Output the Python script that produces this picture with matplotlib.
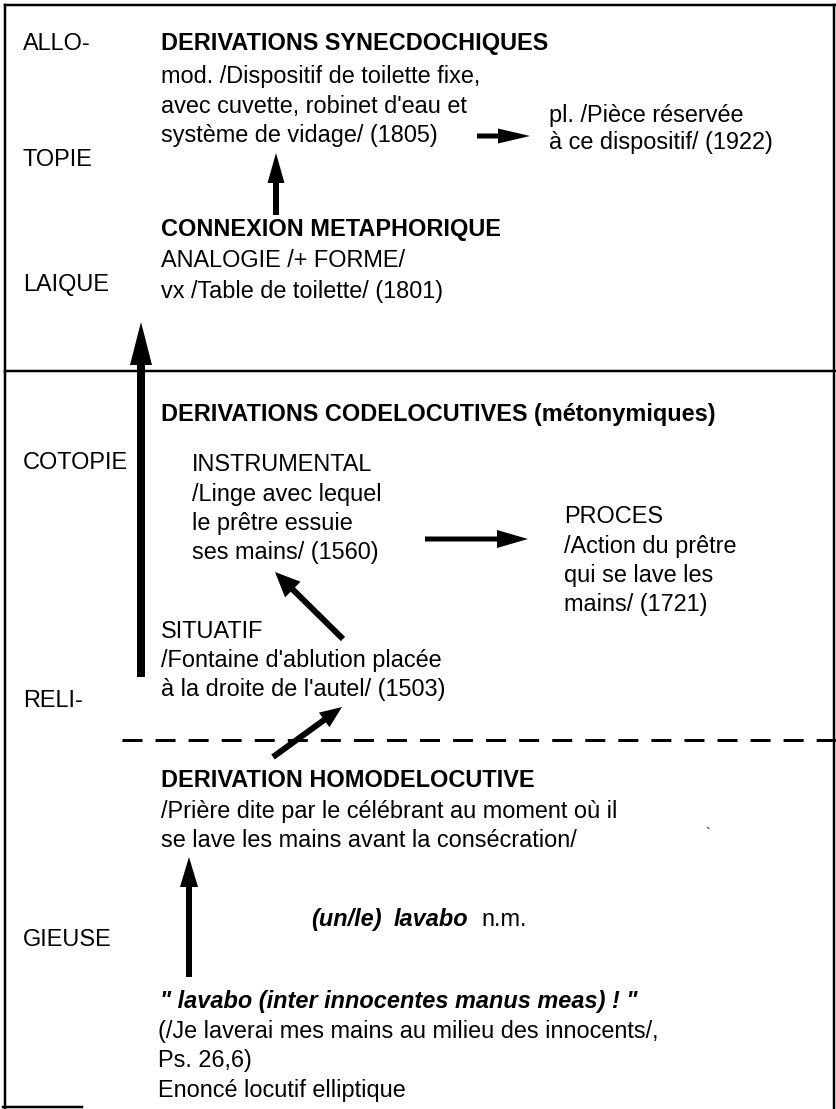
#!/usr/bin/env python
# -*- coding: utf-8 -*-
"""
Schema: derivations semantiques de "lavabo" (allotopie laique / cotopie religieuse).
"""
import matplotlib
matplotlib.use("Agg")
import matplotlib.pyplot as plt

plt.rcParams.update({
    "font.family": ["Liberation Sans", "DejaVu Sans"],
    "font.size": 16.9,
    "lines.scale_dashes": False,
})

W, H = 837, 1109  # canvas in pixels, 1 data unit = 1 px

# ── Texts ──
zone_labels = ["ALLO-", "TOPIE", "LAIQUE", "COTOPIE", "RELI-", "GIEUSE"]

synec_title = "DERIVATIONS SYNECDOCHIQUES"
synec_lines = ["mod. /Dispositif de toilette fixe,",
               "avec cuvette, robinet d'eau et",
               "système de vidage/ (1805)"]
synec_plural = ["pl. /Pièce réservée", "à ce dispositif/ (1922)"]

meta_title = "CONNEXION METAPHORIQUE"
meta_lines = ["ANALOGIE /+ FORME/", "vx /Table de toilette/ (1801)"]

codel_title = "DERIVATIONS CODELOCUTIVES (métonymiques)"
instr_lines = ["INSTRUMENTAL", "/Linge avec lequel", "le prêtre essuie", "ses mains/ (1560)"]
proces_lines = ["PROCES", "/Action du prêtre", "qui se lave les", "mains/ (1721)"]
situ_lines = ["SITUATIF", "/Fontaine d'ablution placée", "à la droite de l'autel/ (1503)"]

homo_title = "DERIVATION HOMODELOCUTIVE"
homo_lines = ["/Prière dite par le célébrant au moment où il",
              "se lave les mains avant la consécration/"]

entry_words = ["(un/le)", "lavabo", "n.m."]
source_quote = "\" lavabo (inter innocentes manus meas) ! \""
source_lines = ["(/Je laverai mes mains au milieu des innocents/,",
                "Ps. 26,6)",
                "Enoncé locutif elliptique"]

# ── Figure ──
fig = plt.figure(figsize=(W / 100, H / 100), dpi=100)
ax = fig.add_axes([0, 0, 1, 1])
ax.set_xlim(0, W)
ax.set_ylim(H, 0)
ax.axis("off")


def block(x, y0, lines, dy=29.5, **kw):
    for i, s in enumerate(lines):
        ax.text(x, y0 + i * dy, s, va="baseline", ha="left", **kw)


def arrow(x0, y0, x1, y1, shaft, hw, hl):
    ax.arrow(x0, y0, x1 - x0, y1 - y0, width=shaft, head_width=hw, head_length=hl,
             length_includes_head=True, fc="black", ec="black", lw=0, zorder=3)


# frame + separators
lw_px = 0.72
ax.plot([5, 5], [5, 1108], color="black", lw=2.5 * lw_px)
ax.plot([5, W], [5, 5], color="black", lw=2.5 * lw_px)
ax.plot([834, 834], [5, H], color="black", lw=2.5 * lw_px)
ax.plot([3, 82], [1107, 1107], color="black", lw=2.5 * lw_px)
ax.plot([5, W], [371, 371], color="black", lw=2.5 * lw_px)
ax.plot([122, W], [740, 740], color="black", lw=3 * lw_px, dashes=(14.4, 9.4))

# zone labels (left column)
for lab, y in zip(zone_labels, [50, 166, 291, 469, 707, 946]):
    ax.text(23, y, lab, va="baseline")

# upper part: laique
ax.text(161, 50, synec_title, fontweight="bold", va="baseline")
block(161, 83, synec_lines)
block(549, 122, synec_plural, dy=27)
ax.text(161, 236, meta_title, fontweight="bold", va="baseline")
block(161, 267, meta_lines, dy=31)

# middle part: codelocutives
ax.text(161, 421, codel_title, fontweight="bold", va="baseline")
block(192, 471, instr_lines)
block(564, 523, proces_lines)
block(161, 638, situ_lines, dy=29)

# lower part: homodelocutive
ax.text(161, 787, homo_title, fontweight="bold", va="baseline")
block(161, 818, homo_lines, dy=29)
ax.text(705, 838, "`", fontsize=10, va="baseline")

ax.text(311, 926, entry_words[0], fontweight="bold", fontstyle="italic", va="baseline")
ax.text(394, 926, entry_words[1], fontweight="bold", fontstyle="italic", va="baseline")
ax.text(481, 926, entry_words[2], va="baseline")

ax.text(160, 1008, source_quote, fontweight="bold", fontstyle="italic", va="baseline")
block(158, 1038, source_lines, dy=29.5)

# arrows
arrow(477, 136, 530, 136, 5, 15, 32)
arrow(276, 215, 276, 153, 6, 17, 30)
arrow(141, 677, 141, 322, 8, 22, 43)
arrow(425, 539, 528, 539, 5, 18, 31)
arrow(343, 639, 275, 572, 6, 22, 25)
arrow(273, 757, 342, 707, 6, 18, 22)
arrow(189, 977, 189, 857, 6, 18, 30)

fig.savefig("out.png", dpi=100, facecolor="white")
plt.close(fig)
